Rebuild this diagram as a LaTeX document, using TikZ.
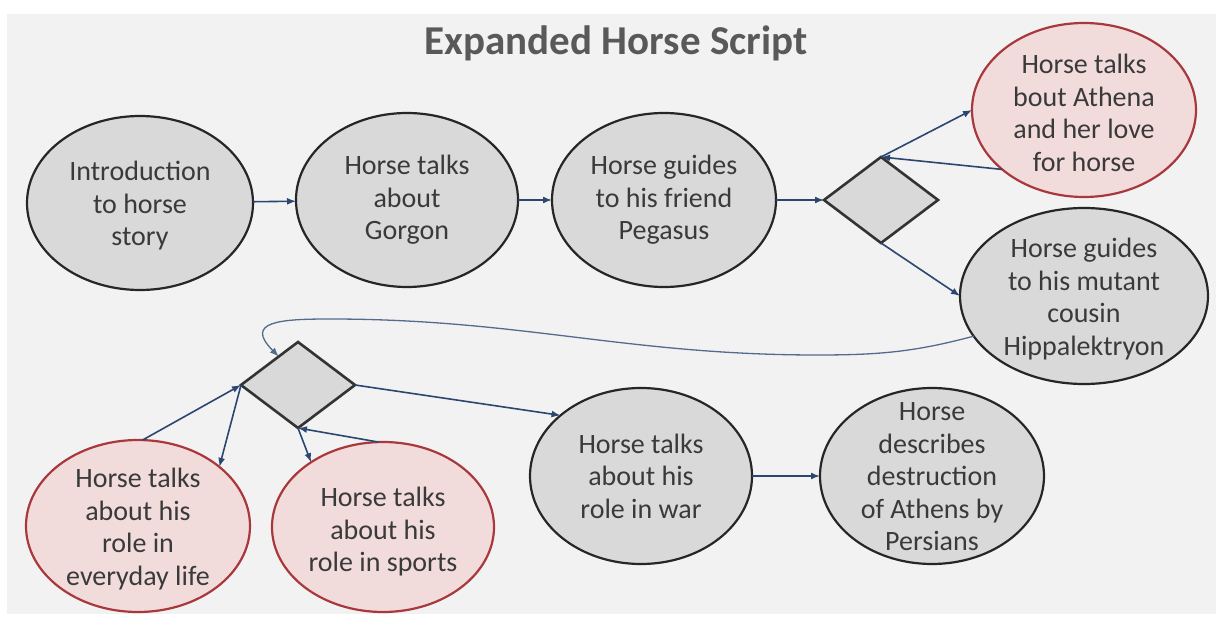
\documentclass[tikz,border=0pt]{standalone}
\usepackage{fontspec}
\setmainfont{Carlito}
\usetikzlibrary{shapes.geometric,arrows.meta}
\definecolor{bgc}{HTML}{F2F2F2}
\definecolor{ellfill}{HTML}{D9D9D9}
\definecolor{elldraw}{HTML}{262626}
\definecolor{pinkfill}{HTML}{F2DCDB}
\definecolor{pinkdraw}{HTML}{A8383B}
\definecolor{diadraw}{HTML}{333333}
\definecolor{txtc}{HTML}{3A3A3A}
\definecolor{arrc}{HTML}{2B4670}
\definecolor{titlec}{HTML}{595959}
\begin{document}
\begin{tikzpicture}[x=1pt,y=1pt,
  base/.style={ellipse, draw=elldraw, line width=2.2pt, inner sep=0pt, outer sep=0pt},
  grayell/.style={base, fill=ellfill},
  pinkell/.style={base, fill=pinkfill, draw=pinkdraw},
  dia/.style={diamond, draw=diadraw, fill=ellfill, line width=2.6pt, inner sep=0pt, outer sep=0pt, minimum width=114pt, minimum height=86pt},
  txt/.style={align=center, text=txtc, font=\fontsize{28}{32.5}\selectfont, inner sep=0pt},
  conn/.style={draw=arrc, line width=1.6pt, -{Latex[length=9pt,width=7pt]}},
]
\useasboundingbox (0,0) rectangle (1216,-617);
\fill[white] (0,0) rectangle (1216,-617);
\fill[bgc] (7,-14) rectangle (1216,-614);

\node[font=\fontsize{41}{49}\selectfont\bfseries, text=titlec, anchor=base, inner sep=0pt] (title) at (616,-55) {Expanded Horse Script};

\node[grayell, minimum width=226pt, minimum height=174pt, label={[txt, yshift=-3pt]center:Introduction\\to horse\\story}] (intro) at (140,-203) {};
\node[grayell, minimum width=222pt, minimum height=174pt, label={[txt]center:Horse talks\\about\\Gorgon}] (gorgon) at (407,-200) {};
\node[grayell, minimum width=224pt, minimum height=174pt, label={[txt]center:Horse guides\\to his friend\\Pegasus}] (pegasus) at (664,-200) {};
\node[dia] (d1) at (881,-200) {};
\node[pinkell, minimum width=224pt, minimum height=174pt, label={[txt, yshift=-3pt]center:Horse talks\\bout Athena\\and her love\\for horse}] (athena) at (1084,-110) {};
\node[grayell, minimum width=248pt, minimum height=176pt, label={[txt, yshift=-3pt]center:Horse guides\\to his mutant\\cousin\\Hippalektryon}] (hipp) at (1084,-296) {};
\node[dia] (d2) at (298,-385) {};
\node[pinkell, minimum width=224pt, minimum height=172pt, label={[txt, yshift=-3pt]center:Horse talks\\about his\\role in\\everyday life}] (everyday) at (138,-526) {};
\node[pinkell, minimum width=222pt, minimum height=170pt, label={[txt, yshift=-5pt]center:Horse talks\\about his\\role in sports}] (sports) at (383,-527) {};
\node[grayell, minimum width=222pt, minimum height=176pt, label={[txt]center:Horse talks\\about his\\role in war}] (war) at (641,-476) {};
\node[grayell, minimum width=224pt, minimum height=176pt, label={[txt, yshift=-1pt]center:Horse\\describes\\destruction\\of Athens by\\Persians}] (persians) at (932,-476) {};

\coordinate (w1) at (817,-355);
\coordinate (w2) at (330,-319);

\draw[conn] (intro) -- (gorgon);
\draw[conn] (gorgon) -- (pegasus);
\draw[conn] (pegasus) -- (d1);
\draw[conn] (d1.north) -- (athena.west);
\draw[conn] (athena.216) -- (d1.north);
\draw[conn] (d1.south) -- (hipp.west);
\draw[conn, line width=1.3pt, draw=arrc!80] (hipp.200) to[out=195,in=0] (w1) to[out=180,in=0] (w2) to[out=180,in=135,looseness=2] (d2.124);
\draw[conn] (d2.east) -- (war.143);
\draw[conn] (d2.south) -- (sports.138);
\draw[conn] (sports.93) -- (d2.south);
\draw[conn] (d2.west) -- (everyday.36);
\draw[conn] (everyday.87) -- (d2.west);
\draw[conn] (war) -- (persians);
\end{tikzpicture}
\end{document}
